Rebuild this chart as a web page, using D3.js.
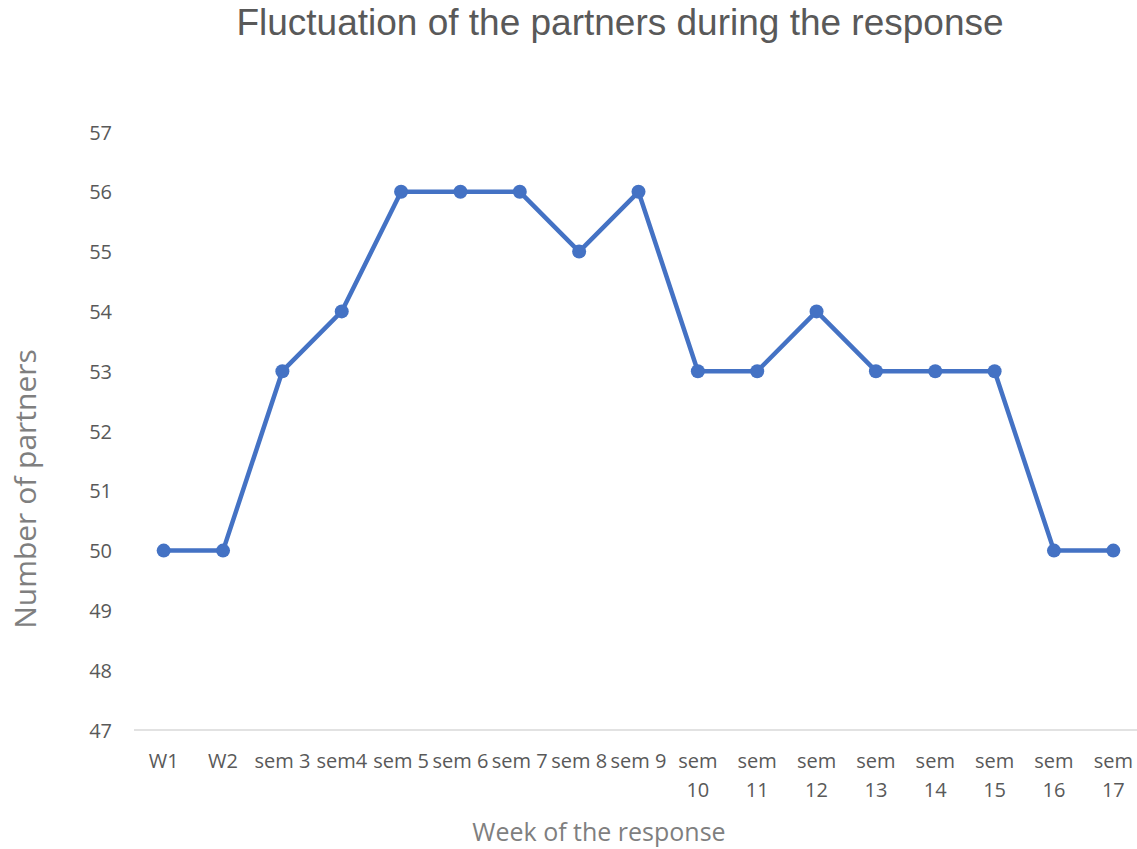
<!DOCTYPE html>
<html>
<head>
<meta charset="utf-8">
<script src="https://cdn.jsdelivr.net/npm/d3@7"></script>
<style>
  html, body { margin: 0; padding: 0; background: #fff; }
  svg { display: block; }
</style>
</head>
<body>
<svg id="chart" width="1137" height="849"></svg>
<script>
// Weekly count of partners active in the response
const weeks = ["W1", "W2", "sem 3", "sem4", "sem 5", "sem 6", "sem 7", "sem 8", "sem 9",
               "sem 10", "sem 11", "sem 12", "sem 13", "sem 14", "sem 15", "sem 16", "sem 17"];
const partners = [50, 50, 53, 54, 56, 56, 56, 55, 56, 53, 53, 54, 53, 53, 53, 50, 50];
const yTicks = [47, 48, 49, 50, 51, 52, 53, 54, 55, 56, 57];

const chartTitle = "Fluctuation of the partners during the response";
const xTitle = "Week of the response";
const yTitle = "Number of partners";

const svg = d3.select("#chart");
const plotLeft = 134, plotRight = 1143, plotTop = 132, plotBottom = 730;

const x = d3.scaleBand().domain(weeks).range([plotLeft, plotRight]);
const y = d3.scaleLinear().domain([47, 57]).range([plotBottom, plotTop]);

const labelFont = "'Open Sans', sans-serif";
const textColor = "#595959";

// Title
svg.append("text")
  .attr("x", 620).attr("y", 35)
  .attr("text-anchor", "middle")
  .style("font-family", "'Liberation Sans', Arial, sans-serif")
  .style("font-size", "37px")
  .style("fill", textColor)
  .text(chartTitle);

// Y axis (labels only)
const yAxis = d3.axisLeft(y).tickValues(yTicks).tickSize(0).tickPadding(0);
const gy = svg.append("g").attr("transform", `translate(112,0)`).call(yAxis);
gy.select(".domain").remove();
gy.selectAll("text")
  .attr("dy", "0.35em")
  .style("font-family", labelFont)
  .style("font-size", "20px")
  .style("fill", textColor);

// X axis line
svg.append("line")
  .attr("x1", plotLeft).attr("x2", 1137)
  .attr("y1", y(47)).attr("y2", y(47))
  .attr("stroke", "#d9d9d9").attr("stroke-width", 1.5);

// X axis labels, wrapped to the band width
const xAxis = d3.axisBottom(x).tickSize(0).tickPadding(0);
const gx = svg.append("g").attr("transform", `translate(0,${plotBottom})`).call(xAxis);
gx.select(".domain").remove();
gx.selectAll("text")
  .style("font-family", labelFont)
  .style("font-size", "20px")
  .style("fill", textColor)
  .each(function(d) {
    const t = d3.select(this);
    t.attr("y", 0).attr("dy", null).text(d);
    if (this.getComputedTextLength() > x.bandwidth()) {
      const words = d.split(" ");
      t.text(null);
      words.forEach((w, i) => {
        t.append("tspan").attr("x", 0).attr("y", 38 + i * 29).text(w);
      });
    } else {
      t.attr("y", 38);
    }
  });

// Axis titles
svg.append("text")
  .attr("x", 599).attr("y", 841)
  .attr("text-anchor", "middle")
  .style("font-family", labelFont)
  .style("font-size", "25px")
  .style("fill", "#7f7f7f")
  .text(xTitle);

svg.append("text")
  .attr("transform", `translate(36,489) rotate(-90)`)
  .attr("text-anchor", "middle")
  .style("font-family", labelFont)
  .style("font-size", "30px")
  .style("fill", "#7f7f7f")
  .text(yTitle);

// Series line and markers
const cx = d => x(d) + x.bandwidth() / 2;
const line = d3.line().x((d, i) => cx(weeks[i])).y(d => y(d));

svg.append("path")
  .datum(partners)
  .attr("d", line)
  .attr("fill", "none")
  .attr("stroke", "#4472C4")
  .attr("stroke-width", 4.5)
  .attr("stroke-linejoin", "round");

svg.selectAll("circle.pt")
  .data(partners)
  .join("circle")
  .attr("class", "pt")
  .attr("cx", (d, i) => cx(weeks[i]))
  .attr("cy", d => y(d))
  .attr("r", 7)
  .attr("fill", "#4472C4");
</script>
</body>
</html>
